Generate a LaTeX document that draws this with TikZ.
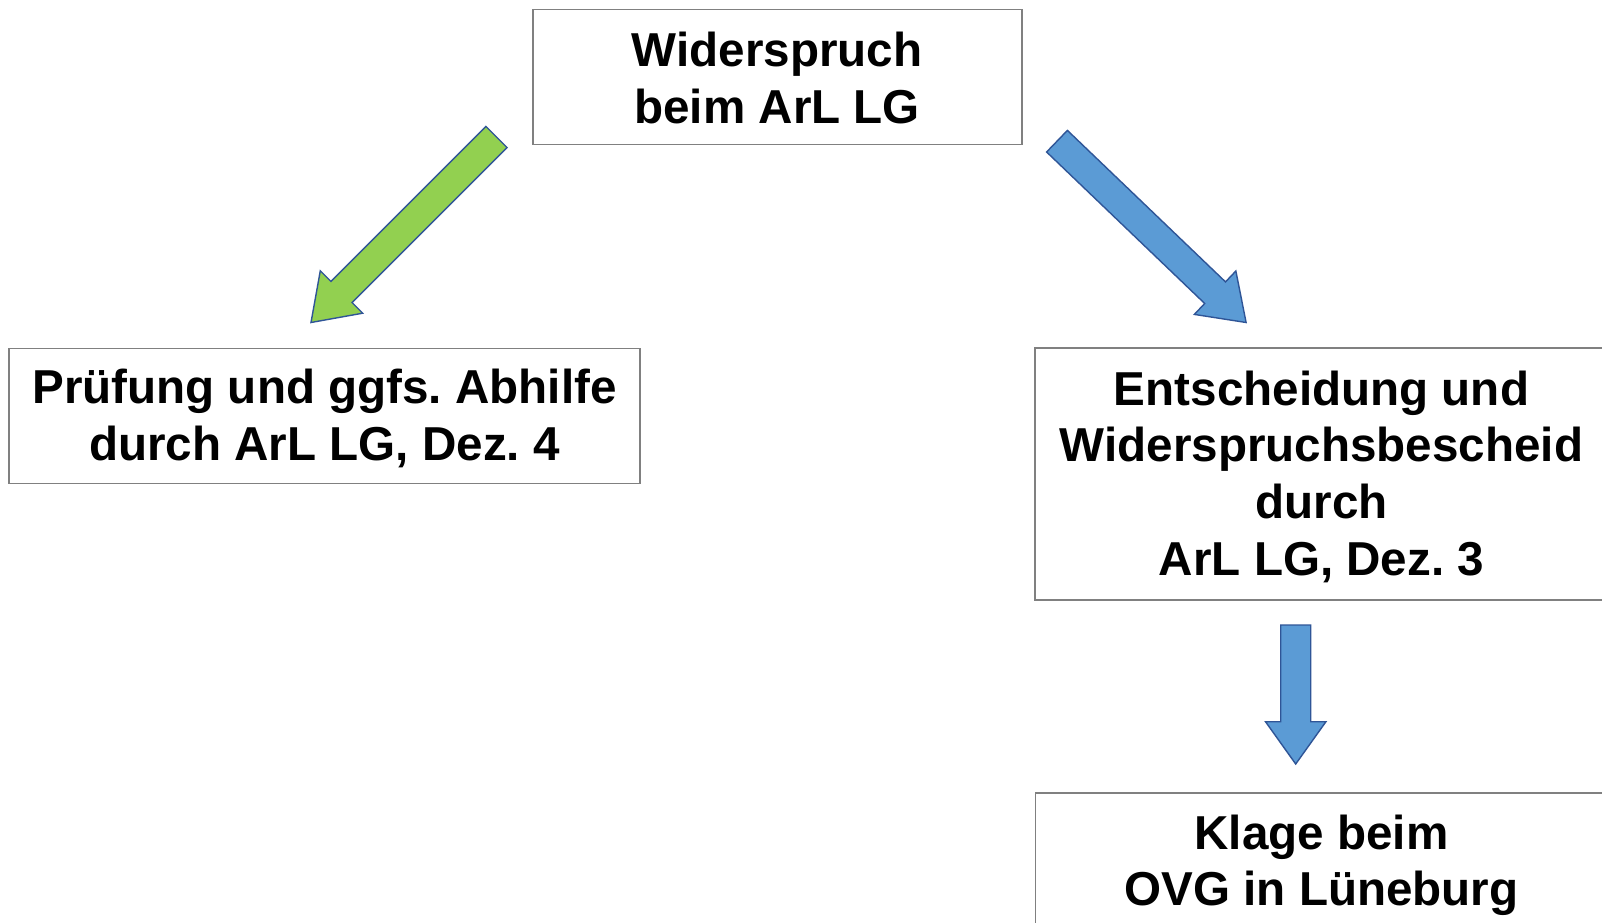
\documentclass[tikz,border=0pt]{standalone}
\usepackage{fontspec}
\setmainfont{Liberation Sans}
\frenchspacing
\definecolor{boxgray}{RGB}{128,128,128}
\definecolor{arrowline}{RGB}{47,85,151}
\definecolor{arrowgreen}{RGB}{146,208,80}
\definecolor{arrowblue}{RGB}{91,155,213}
\tikzset{
  box/.style={draw=boxgray, line width=1.6bp, fill=white, inner sep=0pt},
  txt/.style={inner sep=0pt, anchor=base, font=\fontsize{47.6bp}{56.6bp}\selectfont\bfseries},
  blockarrow/.style={draw=arrowline, line width=1.4bp, line join=miter},
}
\newcommand{\lines}[1]{\begin{tabular}[t]{@{}c@{}}#1\end{tabular}}
\begin{document}
\begin{tikzpicture}[x=1bp,y=-1bp]
\useasboundingbox (0,0) rectangle (1602,922);
\clip (0,0) rectangle (1602,922);
\fill[white] (0,0) rectangle (1602,922);

% boxes
\node[box, minimum width=489bp, minimum height=135bp] (top) at (777.2,76.8) {};
\node[box, minimum width=631bp, minimum height=135bp] (left) at (324.5,415.8) {};
\node[box, minimum width=573bp, minimum height=252bp] (right) at (1321.5,474) {};
\node[box, minimum width=572bp, minimum height=252bp] (bottom) at (1321.5,919) {};

% texts
\node[txt] (toptext) at (777.2,66.7) {\lines{Widerspruch\\beim ArL LG}};
\node[txt] (lefttext) at (324.5,403.8) {\lines{Prüfung und ggfs. Abhilfe\\durch ArL LG, Dez. 4}};
\node[txt] (righttext) at (1321.5,405.2) {\lines{Entscheidung und\\Widerspruchsbescheid\\durch\\ArL LG, Dez. 3}};
\node[txt] (bottomtext) at (1321.5,849) {\lines{Klage beim\\OVG in Lüneburg}};

% green arrow (top -> left)
\draw[blockarrow, fill=arrowgreen]
  (485.9,126.4) -- (507.1,147.6) -- (352.1,302.6) -- (362.7,313.2)
  -- (311,322.5) -- (320.3,270.8) -- (330.9,281.4) -- cycle;

% blue arrow (top -> right)
\draw[blockarrow, fill=arrowblue]
  (1067.4,130.4) -- (1046.6,152.0) -- (1204.7,303.5) -- (1194.35,314.4)
  -- (1246.1,322.5) -- (1235.85,271.0) -- (1225.5,281.9) -- cycle;

% blue arrow (right -> bottom)
\draw[blockarrow, fill=arrowblue]
  (1280.7,625) -- (1310.7,625) -- (1310.7,721.7) -- (1325.9,721.7)
  -- (1295.7,764) -- (1265.5,721.7) -- (1280.7,721.7) -- cycle;
\end{tikzpicture}
\end{document}
